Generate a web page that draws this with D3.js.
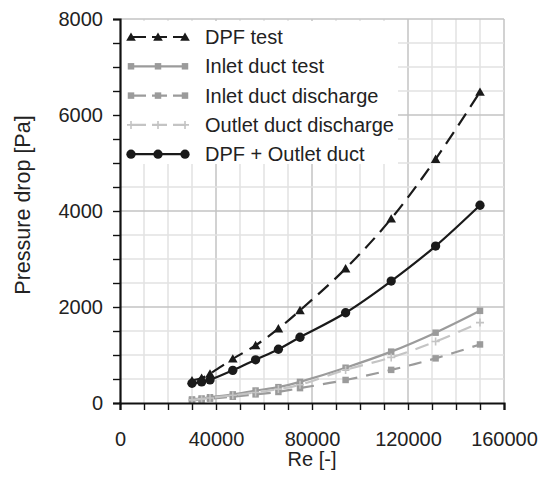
<!DOCTYPE html>
<html>
<head>
<meta charset="utf-8">
<script src="https://cdn.jsdelivr.net/npm/d3@7"></script>
<style>
  html, body { margin: 0; padding: 0; background: #fff; }
  svg { display: block; font-family: "Liberation Sans", Arial, sans-serif; }
</style>
</head>
<body>
<svg id="chart" width="541" height="478"></svg>
<script>
// Reynolds numbers of the measured operating points
const reynolds = [30000, 34000, 37500, 47000, 56500, 66000, 75000, 94000, 113000, 131500, 150000];

// Pressure drop [Pa] per series
const dpfTest = [470, 520, 610, 920, 1200, 1550, 1930, 2800, 3840, 5080, 6480];
const inletDuctTest = [75, 95, 120, 180, 260, 330, 440, 735, 1070, 1465, 1920];
const inletDuctDischarge = [55, 70, 90, 130, 180, 230, 310, 480, 690, 930, 1220];
const outletDuctDischarge = [65, 85, 105, 160, 220, 290, 380, 690, 950, 1280, 1675];
const dpfPlusOutlet = [410, 440, 480, 680, 900, 1120, 1370, 1880, 2540, 3270, 4120];

const seriesNames = ["DPF test", "Inlet duct test", "Inlet duct discharge", "Outlet duct discharge", "DPF + Outlet duct"];
const xTickValues = [0, 40000, 80000, 120000, 160000];
const yTickValues = [0, 2000, 4000, 6000, 8000];

const series = [
  { name: seriesNames[0], values: dpfTest, color: "#1a1a1a", dash: "14,8", marker: "triangle" },
  { name: seriesNames[1], values: inletDuctTest, color: "#9b9b9b", dash: null, marker: "square" },
  { name: seriesNames[2], values: inletDuctDischarge, color: "#9b9b9b", dash: "13,9", marker: "square" },
  { name: seriesNames[3], values: outletDuctDischarge, color: "#c4c4c4", dash: "14,9", marker: "plus" },
  { name: seriesNames[4], values: dpfPlusOutlet, color: "#1a1a1a", dash: null, marker: "circle" }
];

const svg = d3.select("#chart");
const plotLeft = 120, plotRight = 504, plotTop = 19, plotBottom = 403;

const x = d3.scaleLinear().domain([0, 160000]).range([plotLeft, plotRight]);
const y = d3.scaleLinear().domain([0, 8000]).range([plotBottom, plotTop]);

// Grid: minor every 10000 / 500, major at labelled ticks
const grid = svg.append("g");
const xMinor = d3.range(10000, 160001, 10000);
const yMinor = d3.range(500, 8001, 500);
grid.selectAll(".vx").data(xMinor).join("line")
  .attr("x1", d => x(d)).attr("x2", d => x(d))
  .attr("y1", plotTop).attr("y2", plotBottom)
  .attr("stroke", d => d % 40000 === 0 ? "#c3c3c3" : "#e2e2e2")
  .attr("stroke-width", 1.5);
grid.selectAll(".hy").data(yMinor).join("line")
  .attr("x1", plotLeft).attr("x2", plotRight)
  .attr("y1", d => y(d)).attr("y2", d => y(d))
  .attr("stroke", d => d % 2000 === 0 ? "#c3c3c3" : "#e2e2e2")
  .attr("stroke-width", 1.5);

// Marker drawing
const symbolPaths = {
  triangle: d3.symbol().type(d3.symbolTriangle).size(40)(),
  square: d3.symbol().type(d3.symbolSquare).size(42)(),
  circle: d3.symbol().type(d3.symbolCircle).size(68)()
};
function drawMarker(g, kind, color, cx, cy) {
  if (kind === "plus") {
    g.append("path")
      .attr("d", `M${cx - 4},${cy}H${cx + 4}M${cx},${cy - 4}V${cy + 4}`)
      .attr("stroke", color).attr("stroke-width", 1.6).attr("fill", "none");
  } else {
    g.append("path")
      .attr("d", symbolPaths[kind])
      .attr("transform", `translate(${cx},${kind === "triangle" ? cy + 1 : cy})`)
      .attr("fill", color);
  }
}

const line = d3.line().curve(d3.curveCardinal.tension(0));

const plot = svg.append("g");
series.forEach(s => {
  const pts = reynolds.map((r, i) => [x(r), y(s.values[i])]);
  plot.append("path")
    .attr("d", line(pts))
    .attr("fill", "none")
    .attr("stroke", s.color)
    .attr("stroke-width", 2.2)
    .attr("stroke-dasharray", s.dash);
  const mg = plot.append("g");
  pts.forEach(p => drawMarker(mg, s.marker, s.color, p[0], p[1]));
});

// Legend on a white panel
const legend = svg.append("g");
legend.append("rect")
  .attr("x", plotLeft + 1).attr("y", plotTop + 2)
  .attr("width", 277).attr("height", 143)
  .attr("fill", "#fff");
series.forEach((s, i) => {
  const ly = 37 + i * 29.3;
  const g = legend.append("g");
  g.append("line")
    .attr("x1", 128).attr("x2", 186)
    .attr("y1", ly).attr("y2", ly)
    .attr("stroke", s.color).attr("stroke-width", 2.2)
    .attr("stroke-dasharray", s.dash ? "15,6" : null)
    .attr("stroke-dashoffset", s.dash ? -3 : null);
  [131, 158, 185].forEach(mx => drawMarker(g, s.marker, s.color, mx, ly));
  g.append("text")
    .attr("x", 205).attr("y", ly)
    .attr("dy", "0.35em")
    .attr("font-size", 20)
    .attr("fill", "#222")
    .text(s.name);
});

// Axes
const xAxis = d3.axisBottom(x).tickValues(d3.range(0, 160001, 10000))
  .tickSize(7).tickFormat(d => xTickValues.includes(d) ? d3.format("d")(d) : "");
const yAxis = d3.axisLeft(y).tickValues(d3.range(0, 8001, 500))
  .tickSize(7).tickFormat(d => yTickValues.includes(d) ? d3.format("d")(d) : "");

const gx = svg.append("g").attr("transform", `translate(0,${plotBottom})`).call(xAxis);
const gy = svg.append("g").attr("transform", `translate(${plotLeft},0)`).call(yAxis);
[gx, gy].forEach(g => {
  g.select(".domain").attr("stroke", "#111").attr("stroke-width", 2.2);
  g.selectAll(".tick line").attr("stroke", "#111").attr("stroke-width", 1.4);
  g.selectAll(".tick text").attr("font-size", 20).attr("fill", "#222")
    .attr("font-family", "\"Liberation Sans\", Arial, sans-serif");
});
gx.selectAll(".tick text").attr("dy", "1.25em").attr("y", 18);
gy.selectAll(".tick text").attr("x", -17);

// Axis titles
svg.append("text")
  .attr("x", (plotLeft + plotRight) / 2).attr("y", 466)
  .attr("text-anchor", "middle")
  .attr("font-size", 20).attr("fill", "#222")
  .text("Re [-]");
svg.append("text")
  .attr("transform", `translate(30,205) rotate(-90)`)
  .attr("text-anchor", "middle")
  .attr("font-size", 21.5).attr("fill", "#222")
  .text("Pressure drop [Pa]");
</script>
</body>
</html>
